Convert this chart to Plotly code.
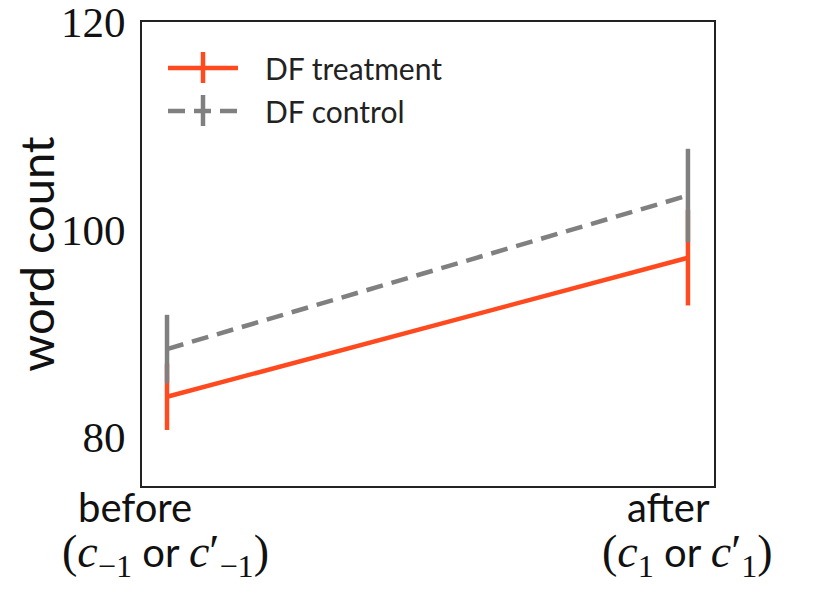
import plotly.graph_objects as go

categories = [0, 1]
tick_line1 = ["before", "after"]
SERIF = "font-family:Liberation Serif;font-size:46px"
tick_line2 = [
    f"<span style='{SERIF}'>(<i>c</i><sub>−1</sub></span> or <span style='{SERIF}'><i>c</i>′<sub>−1</sub>)</span>",
    f"<span style='{SERIF}'>(<i>c</i><sub>1</sub></span> or <span style='{SERIF}'><i>c</i>′<sub>1</sub>)</span>",
]
y_ticks = [80, 100, 120]
series_names = ["DF treatment", "DF control"]
treatment_mean = [83.9, 97.3]
treatment_err = [3.2, 4.6]
control_mean = [88.5, 103.3]
control_err = [3.3, 4.5]

RED = "#FF4A1F"
GREY = "#808080"
DASH = "17px,9px"

# page offset (browser body margin) and plot area in screen pixels
OFF = 8
FW, FH = 822, 585
L, R, T, B = 142, 714, 22, 486
W, H = R - L, B - T


def px(x):
    return (x - L) / W


def py(y):
    return (B - y) / H


fig = go.Figure()
fig.add_trace(go.Scatter(
    x=categories, y=treatment_mean, mode="lines", name=series_names[0],
    line=dict(color=RED, width=4.5),
    error_y=dict(type="data", array=treatment_err, color=RED, thickness=4.5, width=0),
))
fig.add_trace(go.Scatter(
    x=categories, y=control_mean, mode="lines", name=series_names[1],
    line=dict(color=GREY, width=4.5, dash=DASH),
    error_y=dict(type="data", array=control_err, color=GREY, thickness=4.5, width=0),
))

# custom legend (matplotlib-style errorbar handles)
shapes = []
annotations = []
legend_rows = [(68, RED, "solid"), (111, GREY, DASH)]
for (yy, col, dash), name in zip(legend_rows, series_names):
    shapes.append(dict(type="line", xref="paper", yref="paper",
                       x0=px(168), x1=px(238), y0=py(yy), y1=py(yy),
                       line=dict(color=col, width=4.5, dash=dash)))
    shapes.append(dict(type="line", xref="paper", yref="paper",
                       x0=px(203), x1=px(203), y0=py(yy - 16), y1=py(yy + 15),
                       line=dict(color=col, width=4.5)))
    annotations.append(dict(text=name, xref="paper", yref="paper",
                            x=px(263), y=py(yy), xanchor="left", yanchor="middle",
                            showarrow=False, font=dict(size=30, family="Lato", color="#222")))

# x tick labels as two-line annotations
for c, l1, l2, s1, s2 in zip(categories, tick_line1, tick_line2, [-32, -19], [-2, 0]):
    annotations.append(dict(text=l1, x=c, xref="x", y=py(507), yref="paper",
                            xanchor="center", yanchor="middle", xshift=s1, showarrow=False,
                            font=dict(size=40, family="Lato", color="#111")))
    annotations.append(dict(text=l2, x=c, xref="x", y=py(555), yref="paper",
                            xanchor="center", yanchor="middle", xshift=s2, showarrow=False,
                            font=dict(size=40, family="Lato", color="#111")))

fig.update_layout(
    width=FW, height=FH,
    margin=dict(l=L - OFF, r=FW - (R - OFF), t=T - OFF, b=FH - (B - OFF)),
    plot_bgcolor="white", paper_bgcolor="white",
    font=dict(family="Lato", color="#222"),
    showlegend=False,
    shapes=shapes,
    annotations=annotations,
    xaxis=dict(
        range=[-0.048, 1.05], tickmode="array", tickvals=categories, ticktext=["", ""],
        showgrid=False, zeroline=False, ticks="", automargin=False,
        showline=True, mirror=True, linecolor="#222", linewidth=2,
    ),
    yaxis=dict(
        range=[75.3, 120.02], tickvals=y_ticks, ticktext=[str(v) for v in y_ticks],
        showgrid=False, zeroline=False, ticks="", automargin=False,
        showline=True, mirror=True, linecolor="#222", linewidth=2,
        tickfont=dict(size=43, family="Liberation Serif", color="#111"),
        ticklabelstandoff=6, ticklabeloverflow="allow",
        title=dict(text="word count", font=dict(size=47, family="Lato", color="#111"), standoff=12),
    ),
)

fig.write_html("out.html")
